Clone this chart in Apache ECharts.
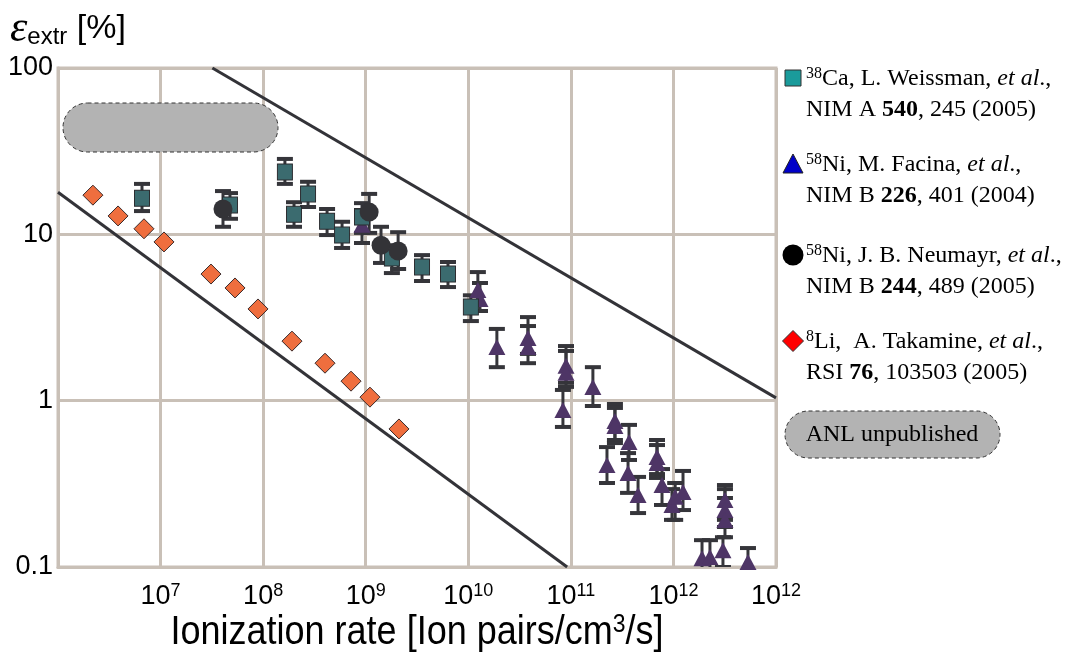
<!DOCTYPE html>
<html>
<head>
<meta charset="utf-8">
<script src="https://cdn.jsdelivr.net/npm/echarts@6/dist/echarts.min.js"></script>
<style>
  html, body { margin: 0; padding: 0; background: #fff; }
  #chart { width: 1067px; height: 652px; }
</style>
</head>
<body>
<div id="chart"></div>
<script>
// tick labels (exponents for x, plain for y) - last x label reads 10^12 in the original
const xTickExp = ['', '7', '8', '9', '10', '11', '12', '12'];
const yTickLabels = ['0.1', '1', '10', '100'];

// 8Li, Takamine (diamonds)
const liRate = [2.19e6, 3.85e6, 6.89e6, 1.08e7, 3.10e7, 5.32e7, 8.91e7, 1.91e8, 4.01e8, 7.19e8, 1.10e9, 2.11e9];
const liEff = [17.2, 12.9, 10.8, 9.0, 5.77, 4.76, 3.56, 2.28, 1.68, 1.31, 1.05, 0.676];

// 38Ca, Weissman (squares)
const caRate = [6.59e6, 4.75e7, 1.63e8, 2.00e8, 2.74e8, 4.20e8, 5.88e8, 9.2e8, 1.80e9, 3.54e9, 6.34e9, 1.06e10];
const caEff = [16.5, 15.0, 23.7, 13.2, 17.5, 12.0, 9.9, 12.7, 7.2, 6.37, 5.77, 3.66];
const caLow = [13.8, 12.4, 20.1, 11.1, 14.6, 9.9, 8.28, 10.2, 5.85, 5.24, 4.82, 3.01];
const caHigh = [20.1, 17.7, 28.4, 15.6, 20.7, 14.2, 11.9, 15.4, 8.6, 7.5, 6.82, 4.3];

// 58Ni, Neumayr (circles)
const neuRate = [4.06e7, 1.08e9, 1.41e9, 2.07e9];
const neuEff = [14.2, 13.6, 8.6, 7.94];
const neuLow = [11.1, 10.2, 6.73, 6.19];
const neuHigh = [18.2, 17.5, 11.1, 10.3];

// 58Ni, Facina (triangles)
const facRate = [9.2e8, 1.24e10, 1.30e10, 1.90e10, 3.82e10, 3.82e10, 8.97e10, 8.97e10, 8.37e10, 1.64e11,
  2.69e11, 2.69e11, 3.69e11, 2.25e11, 3.61e11, 4.52e11, 6.92e11, 6.92e11, 7.74e11, 9.68e11,
  1.04e12, 1.24e12, 3.18e12, 3.18e12, 3.18e12, 3.04e12, 1.90e12, 2.27e12, 5.33e12];
const facEff = [11.4, 4.62, 4.08, 2.10, 2.38, 2.10, 1.62, 1.47, 0.879, 1.21,
  0.755, 0.705, 0.564, 0.410, 0.367, 0.271, 0.458, 0.422, 0.311, 0.236,
  0.264, 0.282, 0.253, 0.22, 0.192, 0.126, 0.113, 0.115, 0.107];
const facLow = [8.87, 3.76, 3.46, 1.59, 1.91, 1.68, 1.28, 1.21, 0.695, 0.929,
  0.58, 0.556, 0.44, 0.32, 0.279, 0.211, 0.362, 0.343, 0.236, 0.192,
  0.192, 0.22, 0.192, 0.174, 0.151, 0.1, 0.09, 0.09, 0.088];
const facHigh = [14.0, 5.93, 5.10, 2.70, 3.18, 2.81, 2.13, 1.99, 1.16, 1.59,
  0.955, 0.904, 0.715, 0.526, 0.484, 0.348, 0.58, 0.541, 0.388, 0.294,
  0.32, 0.378, 0.311, 0.294, 0.26, 0.151, 0.145, 0.145, 0.13];

// guide lines (end points)
const upperLine = [[3.2e7, 100], [1e13, 1.04]];
const lowerLine = [[1e6, 17.9], [9.2e10, 0.1]];

const gridColor = '#c9c0b7';
const barColor = '#35353a';

function pairs(xs, ys) {
  return xs.map((x, i) => [x, ys[i]]);
}

function errorBars(xs, lo, hi) {
  return {
    type: 'custom',
    clip: true,
    silent: true,
    data: xs.map((x, i) => [x, lo[i], hi[i]]),
    renderItem: (params, api) => {
      const top = api.coord([api.value(0), api.value(2)]);
      const bot = api.coord([api.value(0), api.value(1)]);
      const w = 8;
      const stem = { stroke: barColor, lineWidth: 3 };
      const cap = { stroke: barColor, lineWidth: 4 };
      return {
        type: 'group',
        children: [
          { type: 'line', shape: { x1: top[0], y1: top[1], x2: bot[0], y2: bot[1] }, style: stem },
          { type: 'line', shape: { x1: top[0] - w, y1: top[1], x2: top[0] + w, y2: top[1] }, style: cap },
          { type: 'line', shape: { x1: bot[0] - w, y1: bot[1], x2: bot[0] + w, y2: bot[1] }, style: cap }
        ]
      };
    }
  };
}

function guide(points) {
  return {
    type: 'line',
    data: points,
    symbol: 'none',
    silent: true,
    lineStyle: { color: '#333338', width: 3 }
  };
}

const serif = 'Liberation Serif';
const sans = 'Liberation Sans';
const legendRich = {
  n: { fontFamily: serif, fontSize: 24, color: '#000', lineHeight: 31 },
  s: { fontFamily: serif, fontSize: 16, color: '#000', padding: [0, 0, 10, 0] },
  i: { fontFamily: serif, fontSize: 24, fontStyle: 'italic', color: '#000', lineHeight: 31 },
  b: { fontFamily: serif, fontSize: 24, fontWeight: 'bold', color: '#000', lineHeight: 31 }
};

const legendItems = [
  { y: 78, symbol: { type: 'rect', shape: { x: -8, y: -8, width: 16, height: 16 }, style: { fill: '#1a9b9b', stroke: '#333', lineWidth: 1 } },
    text: '{s|38}{n|Ca, L. Weissman, }{i|et al}{n|.,}\n{n|NIM A }{b|540}{n|, 245 (2005)}' },
  { y: 164, symbol: { type: 'polygon', shape: { points: [[0, -10], [10, 9], [-10, 9]] }, style: { fill: '#0000c8', stroke: '#222', lineWidth: 1 } },
    text: '{s|58}{n|Ni, M. Facina, }{i|et al}{n|.,}\n{n|NIM B }{b|226}{n|, 401 (2004)}' },
  { y: 255, symbol: { type: 'circle', shape: { cx: 0, cy: 0, r: 10.5 }, style: { fill: '#000' } },
    text: '{s|58}{n|Ni, J. B. Neumayr, }{i|et al}{n|.,}\n{n|NIM B }{b|244}{n|, 489 (2005)}' },
  { y: 341, symbol: { type: 'polygon', shape: { points: [[0, -10.5], [10.5, 0], [0, 10.5], [-10.5, 0]] }, style: { fill: '#ff0000', stroke: '#333', lineWidth: 1 } },
    text: '{s|8}{n|Li,  A. Takamine, }{i|et al}{n|.,}\n{n|RSI }{b|76}{n|, 103503 (2005)}' }
];

const graphics = [];
legendItems.forEach((it) => {
  graphics.push(Object.assign({ x: 793, y: it.y }, it.symbol));
  graphics.push({
    type: 'text', x: 806, y: it.y - 15,
    style: { text: it.text, rich: legendRich, verticalAlign: 'top', align: 'left' }
  });
});

// ANL unpublished boxes (legend and in-plot)
graphics.push({
  type: 'rect', shape: { x: 785, y: 411, width: 215, height: 47, r: 23.5 },
  style: { fill: '#b3b3b3', stroke: '#333', lineWidth: 1, lineDash: [4, 3] }
});
graphics.push({
  type: 'text', x: 892, y: 435,
  style: { text: 'ANL unpublished', fontFamily: serif, fontSize: 24, fill: '#000', align: 'center', verticalAlign: 'middle' }
});
graphics.push({
  type: 'rect', z: 100, shape: { x: 63, y: 103, width: 215, height: 49, r: 24.5 },
  style: { fill: '#b3b3b3', stroke: '#333', lineWidth: 1, lineDash: [4, 3] }
});

// y title: epsilon_extr [%]
graphics.push({
  type: 'text', x: 10, y: 29,
  style: {
    text: '{e|ε}{sub|extr}{n| [%]}',
    verticalAlign: 'middle',
    rich: {
      e: { fontFamily: serif, fontStyle: 'italic', fontSize: 44, fill: '#000' },
      sub: { fontFamily: sans, fontSize: 24, fill: '#000', padding: [16, 0, 0, 0] },
      n: { fontFamily: sans, fontSize: 34, fill: '#000' }
    }
  }
});

// x title, the original glyphs are a bit taller than wide
graphics.push({
  type: 'text', x: 417, y: 633, scaleY: 1.15,
  style: {
    text: '{n|Ionization rate [Ion pairs/cm}{s|3}{n|/s]}',
    align: 'center', verticalAlign: 'middle',
    rich: {
      n: { fontFamily: sans, fontSize: 36, fill: '#000' },
      s: { fontFamily: sans, fontSize: 23, fill: '#000', padding: [0, 0, 14, 0] }
    }
  }
});

const chart = echarts.init(document.getElementById('chart'), null, { renderer: 'canvas' });

chart.setOption({
  animation: false,
  backgroundColor: '#fff',
  grid: {
    left: 58, right: 291, top: 68, bottom: 85,
    show: true, borderColor: gridColor, borderWidth: 3
  },
  xAxis: {
    type: 'log', logBase: 10, min: 1e6, max: 1e13, splitNumber: 7,
    axisLine: { show: true, lineStyle: { color: gridColor, width: 3 } },
    axisTick: { show: false },
    splitLine: { show: true, lineStyle: { color: gridColor, width: 3 } },
    axisLabel: {
      margin: 15,
      showMinLabel: true, showMaxLabel: true,
      formatter: (v) => {
        const e = xTickExp[Math.round(Math.log10(v)) - 6];
        return e ? '{n|10}{s|' + e + '}' : '';
      },
      rich: {
        n: { fontFamily: sans, fontSize: 27, color: '#000' },
        s: { fontFamily: sans, fontSize: 18, color: '#000', padding: [0, 0, 12, 0] }
      }
    }
  },
  yAxis: {
    type: 'log', logBase: 10, min: 0.1, max: 100, splitNumber: 3,
    axisLine: { show: true, lineStyle: { color: gridColor, width: 3 } },
    axisTick: { show: false },
    splitLine: { show: true, lineStyle: { color: gridColor, width: 3 } },
    axisLabel: {
      margin: 5,
      fontFamily: sans, fontSize: 27, color: '#000',
      formatter: (v) => yTickLabels[Math.round(Math.log10(v)) + 1]
    }
  },
  series: [
    guide(upperLine),
    guide(lowerLine),
    errorBars(facRate, facLow, facHigh),
    {
      type: 'scatter', data: pairs(facRate, facEff),
      symbol: 'triangle', symbolSize: [17, 16],
      itemStyle: { color: '#4e3566', opacity: 1 }
    },
    errorBars(caRate, caLow, caHigh),
    {
      type: 'scatter', data: pairs(caRate, caEff),
      symbol: 'rect', symbolSize: [15, 16],
      itemStyle: { color: '#3b6b6f', borderColor: '#2a2a2e', borderWidth: 1, opacity: 1 }
    },
    errorBars(neuRate, neuLow, neuHigh),
    {
      type: 'scatter', data: pairs(neuRate, neuEff),
      symbol: 'circle', symbolSize: 19,
      itemStyle: { color: '#333337', opacity: 1 }
    },
    {
      type: 'scatter', data: pairs(liRate, liEff),
      symbol: 'diamond', symbolSize: 20,
      itemStyle: { color: '#ef6e3e', borderColor: '#3a2a2a', borderWidth: 1, opacity: 1 }
    }
  ],
  graphic: graphics
});
</script>
</body>
</html>
